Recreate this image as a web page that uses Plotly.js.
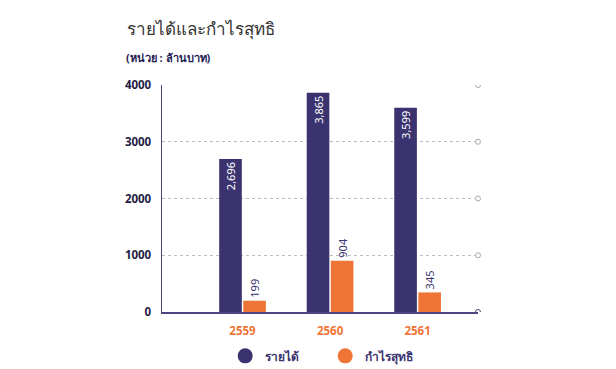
<!DOCTYPE html>
<html><head><meta charset="utf-8">
<script src="https://cdn.plot.ly/plotly-3.0.1.min.js"></script>
<style>html,body{margin:0;padding:0;background:#fff}#c{width:616px;height:369px}</style>
</head><body><div id="c"></div>
<script>
const years = ['2559', '2560', '2561'];
const revenue = [2696, 3865, 3599];
const profit = [199, 904, 345];
const yTicks = [0, 1000, 2000, 3000, 4000];
const seriesNames = ['รายได้', 'กำไรสุทธิ'];
const chartTitle = 'รายได้และกำไรสุทธิ';
const unitLabel = '(หน่วย : ล้านบาท)';

const NAVY = '#3a336f', ORANGE = '#ee7536';
const FONT = 'Noto Sans, DejaVu Sans, sans-serif';
const fmt = v => v.toLocaleString('en-US');

const traces = [
  {type:'bar', x: years, y: revenue, name: seriesNames[0], showlegend:false,
   marker:{color: NAVY}, text: revenue.map(fmt), textposition:'inside', insidetextanchor:'end',
   textangle:-90, textfont:{color:'#fff', size:11, family:FONT}, cliponaxis:false, hoverinfo:'skip'},
  {type:'bar', x: years, y: profit, name: seriesNames[1], showlegend:false,
   marker:{color: ORANGE}, text: profit.map(fmt), textposition:'outside',
   textangle:-90, textfont:{color:NAVY, size:11, family:FONT}, cliponaxis:false, hoverinfo:'skip'},
  {type:'scatter', mode:'markers', x:[null], y:[null], name: seriesNames[0],
   marker:{color:NAVY, size:15, symbol:'circle'}},
  {type:'scatter', mode:'markers', x:[null], y:[null], name: seriesNames[1],
   marker:{color:ORANGE, size:15, symbol:'circle'}}
];

const shapes = yTicks.map(v => ({
  type:'circle', xref:'paper', yref:'y', xsizemode:'pixel', ysizemode:'pixel',
  xanchor:1, yanchor:v, x0:-2.5, x1:2.5, y0:-2.5, y1:2.5,
  line:{color: v === 0 ? '#4a4580' : '#aaaaaa', width:1}, fillcolor:'#fff', layer:'above'
}));

const layout = {
  width:616, height:369,
  margin:{l:162, r:138, t:85, b:57, autoexpand:false},
  paper_bgcolor:'#fff', plot_bgcolor:'#fff',
  font:{family:FONT, color:NAVY},
  barmode:'group', bargap:0.45, bargroupgap:0.06,
  xaxis:{type:'category', range:[-0.92, 2.69], showgrid:false, zeroline:false,
    showline:true, linecolor:'#4a4580', linewidth:1.5, ticks:'',
    tickfont:{color:ORANGE, size:11.5, family:FONT, weight:'bold'}, ticklabelstandoff:8},
  yaxis:{range:[0,4000], tickvals:yTicks, ticktext:yTicks.map(String), showgrid:true,
    gridcolor:'#bdbdbd', griddash:'3px,3px', gridwidth:1, zeroline:false,
    showline:true, linecolor:'#4a4580', linewidth:1.5, ticks:'',
    tickfont:{color:'#1e1c45', size:11.5, family:FONT, weight:'bold'}, ticklabelstandoff:7},
  showlegend:true,
  legend:{orientation:'h', x:0.2, xanchor:'left', yref:'container', y:0.075, yanchor:'top',
    font:{size:12, color:NAVY, family:FONT, weight:'bold'}, itemwidth:30, tracegroupgap:0,
    entrywidth:55, entrywidthmode:'pixels'},
  shapes: shapes,
  annotations:[
    {xref:'paper', yref:'paper', x:-0.117, y:1.25, xanchor:'left', yanchor:'middle',
     text: chartTitle, showarrow:false, font:{size:17, color:'#333', family:FONT}},
    {xref:'paper', yref:'paper', x:-0.12, y:1.12, xanchor:'left', yanchor:'middle',
     text: unitLabel, showarrow:false, font:{size:11, color:'#1e1c55', family:FONT, weight:'bold'}}
  ]
};

Plotly.newPlot('c', traces, layout, {staticPlot:true, displayModeBar:false});
</script></body></html>
